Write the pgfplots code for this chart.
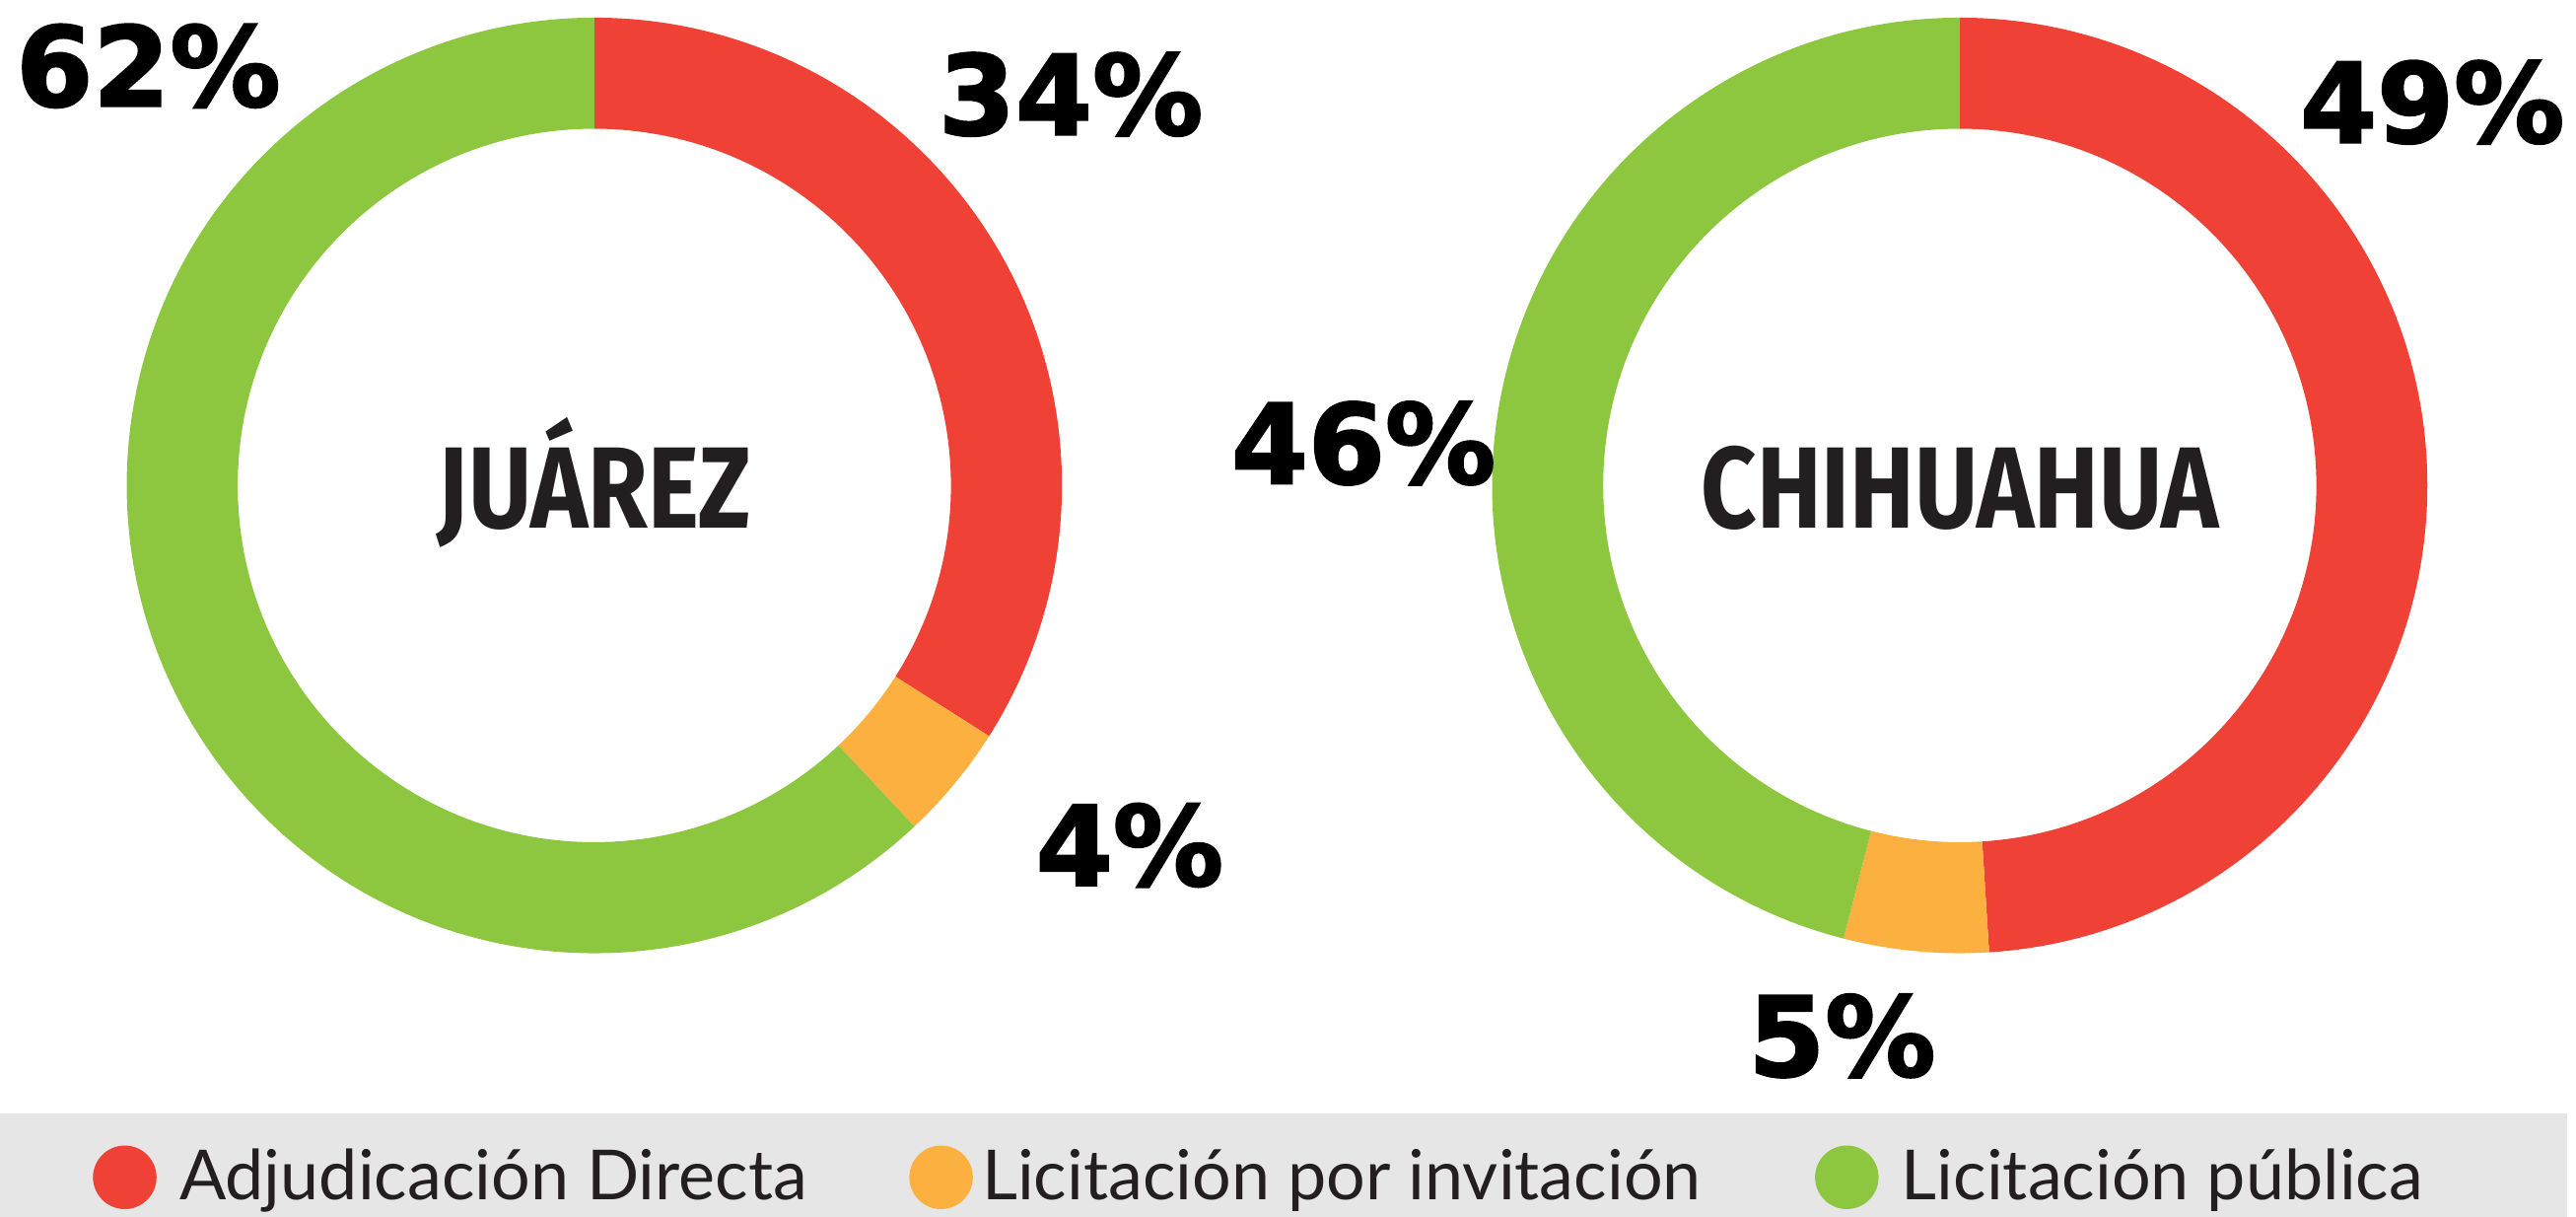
\documentclass[border=0pt]{standalone}
\usepackage{pgfplots}
\pgfplotsset{compat=1.18}
\usepackage{pgfplotstable}
\usepackage{fontspec}
\setmainfont{Lato}
\newfontfamily\pctfont[FakeBold=2]{DejaVu Sans}
\newfontfamily\ciudadfont[FakeStretch=0.84]{Fira Sans}

\definecolor{rojo}{HTML}{EF4136}
\definecolor{naranja}{HTML}{FBB040}
\definecolor{verde}{HTML}{8DC63F}
\definecolor{fondo}{HTML}{E6E6E6}
\definecolor{tinta}{HTML}{231F20}

% participacion por tipo de contratacion (%)
\pgfplotstableread{
valor color
34 rojo
4  naranja
62 verde
}\juarez
\pgfplotstableread{
valor color
49 rojo
5  naranja
46 verde
}\chihuahua

% 1 unidad del eje = 1 px de la referencia = 0.1 mm
\def\yc{744}
\def\Rext{476}
\def\Rint{363}

% anillo: #1 = x del centro, #2 = tabla
\newcommand\dona[2]{%
  \pgfplotstablegetrowsof{#2}%
  \pgfmathtruncatemacro\ultima{\pgfplotsretval-1}%
  \xdef\angA{90}%
  \pgfmathsetmacro\rE{\Rext/100}%
  \pgfmathsetmacro\rI{\Rint/100}%
  \foreach \k in {0,...,\ultima}{%
    \pgfplotstablegetelem{\k}{valor}\of{#2}%
    \pgfmathsetmacro\angB{\angA-3.6*\pgfplotsretval}%
    \pgfplotstablegetelem{\k}{color}\of{#2}%
    \let\col\pgfplotsretval
    \pgfmathsetmacro\xa{#1+\Rext*cos(\angA)}%
    \pgfmathsetmacro\ya{\yc+\Rext*sin(\angA)}%
    \pgfmathsetmacro\xb{#1+\Rint*cos(\angB)}%
    \pgfmathsetmacro\yb{\yc+\Rint*sin(\angB)}%
    \edef\seg{\noexpand\fill[\col] (axis cs:\xa,\ya)
      arc[start angle=\angA, end angle=\angB, radius=\rE cm]
      -- (axis cs:\xb,\yb)
      arc[start angle=\angB, end angle=\angA, radius=\rI cm] -- cycle;}%
    \seg
    \xdef\angA{\angB}%
  }%
}

\begin{document}
\begin{tikzpicture}
\begin{axis}[
    width=26.13cm, height=12.38cm,
    scale only axis,
    xmin=0, xmax=2613, ymin=0, ymax=1238,
    hide axis, clip=false,
]
\path (rel axis cs:0,0) rectangle (rel axis cs:1,1);

% banda de la leyenda
\addplot[draw=none, fill=fondo] coordinates {(0,0) (2613,0) (2613,105) (0,105)} -- cycle;

\dona{605}{\juarez}
\dona{1995}{\chihuahua}

% nombres
\node[anchor=base, text=tinta, font=\ciudadfont\bfseries\fontsize{33.5}{34}\selectfont]
  at (axis cs:605,701) {JUÁREZ};
\node[anchor=base, text=tinta, font=\ciudadfont\bfseries\fontsize{33.5}{34}\selectfont]
  at (axis cs:1995,701) {CHIHUAHUA};

% porcentajes
\tikzset{pct/.style={anchor=base, text=black, font=\pctfont\bfseries\fontsize{32}{32}\selectfont}}
\node[pct] at (axis cs:151,1130) {62\%};
\node[pct] at (axis cs:1090,1101) {34\%};
\node[pct] at (axis cs:1150,337) {4\%};
\node[pct] at (axis cs:2476,1093) {49\%};
\node[pct] at (axis cs:1388,746) {46\%};
\node[pct] at (axis cs:1875,143) {5\%};

% leyenda
\addplot[only marks, mark=*, mark size=9pt, color=rojo] coordinates {(127,40)};
\addplot[only marks, mark=*, mark size=9pt, color=naranja] coordinates {(958,40)};
\addplot[only marks, mark=*, mark size=9pt, color=verde] coordinates {(1880,40)};
\tikzset{ley/.style={anchor=base west, text=tinta, inner sep=0pt, font=\fontsize{20}{21}\selectfont}}
\node[ley] at (axis cs:182,17) {Adjudicación Directa};
\node[ley] at (axis cs:999,17) {Licitación por invitación};
\node[ley] at (axis cs:1935,17) {Licitación pública};
\end{axis}
\end{tikzpicture}
\end{document}
